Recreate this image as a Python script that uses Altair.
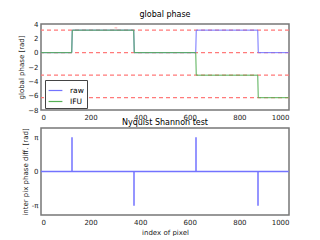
import altair as alt
import pandas as pd
import math

PI = math.pi
# top panel: global phase
x_pts = [0, 124, 126, 374, 376, 624, 626, 874, 876, 999]
raw_vals = [0, 0, PI, PI, 0, 0, PI, PI, 0, 0]
ifu_vals = [0, 0, PI, PI, 0, 0, -PI, -PI, -2 * PI, -2 * PI]
ref_levels = [PI, 0, -PI, -2 * PI]

# bottom panel: inter pixel phase difference
diff_x = [0, 124, 125, 125, 125, 374, 375, 375, 375, 624, 625, 625, 625, 874, 875, 875, 875, 999]
diff_y = [0, 0, 0, PI, 0, 0, 0, -PI, 0, 0, 0, PI, 0, 0, 0, -PI, 0, 0]

x_ticks = [0, 200, 400, 600, 800, 1000]
top_y_ticks = [-8, -6, -4, -2, 0, 2, 4]

FONT = "DejaVu Sans"
BLUE = "#7373ff"
GREEN = "#55b055"
RED = "#ff7a7a"

rows = []
for i, (xv, r, f) in enumerate(zip(x_pts, raw_vals, ifu_vals)):
    rows.append({"x": xv, "y": r, "s": "raw", "o": i})
    rows.append({"x": xv, "y": f, "s": "IFU", "o": i})
df = pd.DataFrame(rows)
ref_df = pd.DataFrame({"y": ref_levels})
diff_df = pd.DataFrame({"x": diff_x, "y": diff_y, "o": list(range(len(diff_x)))})

xscale = alt.Scale(domain=[0, 1000], nice=False, zero=False)
top_yscale = alt.Scale(domain=[-8, 4], nice=False)
top_yaxis = alt.Axis(values=top_y_ticks, format="d", grid=False, labelOverlap=False)
top_y = alt.Y("y:Q", scale=top_yscale, title="global phase [rad]", axis=top_yaxis)

refs = alt.Chart(ref_df).mark_rule(color=RED, strokeDash=[4, 3], strokeWidth=1.2).encode(
    y=top_y
)
lines = alt.Chart(df).mark_line(strokeWidth=1).encode(
    x=alt.X("x:Q", scale=xscale, title=None,
            axis=alt.Axis(values=x_ticks, format="d", grid=False)),
    y=top_y,
    color=alt.Color("s:N", scale=alt.Scale(domain=["raw", "IFU"], range=[BLUE, GREEN]),
                    sort=["raw", "IFU"],
                    legend=alt.Legend(title=None, orient="none", legendX=4, legendY=56,
                                      strokeColor="#444", fillColor="white", padding=3,
                                      symbolType="stroke", symbolSize=190, symbolStrokeWidth=1.2,
                                      labelFontSize=7.5, labelFont=FONT, labelOffset=7,
                                      rowPadding=0)),
    order=alt.Order("o:Q"),
)
mark_txt = alt.Chart(pd.DataFrame({"x": [302], "y": [3.5], "t": ["π"]})).mark_text(
    color=RED, fontSize=5, opacity=0.6, font=FONT
).encode(x="x:Q", y=top_y, text="t:N")

top = alt.layer(refs, lines, mark_txt).properties(
    width=248, height=86,
    title=alt.TitleParams("global phase", fontSize=8, font=FONT, fontWeight="normal", offset=1),
)

bottom = alt.Chart(diff_df).mark_line(color=BLUE, strokeWidth=1.5).encode(
    x=alt.X("x:Q", scale=xscale, title="index of pixel",
            axis=alt.Axis(values=x_ticks, format="d", grid=False)),
    y=alt.Y("y:Q", scale=alt.Scale(domain=[-4, 4], nice=False),
            title="inter pix phase diff. [rad]",
            axis=alt.Axis(values=[-PI, 0, PI], grid=False, labelOverlap=False,
                          labelExpr="datum.value > 1 ? 'π' : (datum.value < -1 ? '-π' : '0')")),
    order=alt.Order("o:Q"),
).properties(
    width=248, height=87,
    title=alt.TitleParams("Nyquist Shannon test", fontSize=8, font=FONT, fontWeight="normal", offset=1),
)

chart = alt.vconcat(top, bottom, spacing=18, bounds="flush").properties(
    padding={"left": 8, "top": 2, "right": 0, "bottom": 0},
).configure_view(
    stroke="#777777", strokeWidth=1.5
).configure_axis(
    labelFont=FONT, titleFont=FONT, labelFontSize=7, titleFontSize=7,
    titleFontWeight="normal", labelColor="#222", titleColor="#222",
    domain=False, ticks=False, labelPadding=3, titlePadding=3,
)

chart.save("out.html", embed_options={"renderer": "svg", "actions": False})
